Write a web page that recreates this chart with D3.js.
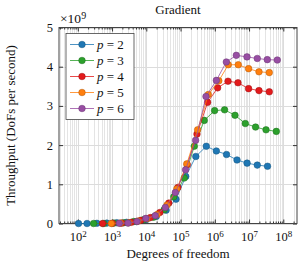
<html lang="en">
<head>
<meta charset="utf-8">
<title>Gradient</title>
<style>
  body { margin: 0; background: white; }
  svg { background: white; font-family: "Liberation Serif", "DejaVu Serif", serif; }
  .grid line { stroke: #e4e4e4; shape-rendering: crispEdges; }
  .grid.major line { stroke: #dcdcdc; }
  .grid path { display: none; }
  .axis path { display: none; }
  .axis line { stroke: #333; }
  .axis text { font-size: 12.5px; fill: #111; font-family: "Liberation Serif", serif; }
  .label { font-size: 13px; fill: #111; }
</style>
</head>
<body>
<script src="https://cdnjs.cloudflare.com/ajax/libs/d3/7.8.5/d3.min.js"></script>
<script>
// polynomial degrees
var degrees = [2, 3, 4, 5, 6];
var colors = ["#1f77b4", "#2ca02c", "#e31a1c", "#ff7f0e", "#984ea3"];
var strokes = ["#17577f", "#1f6e1f", "#9a1214", "#b35a0a", "#6a3672"];

// degrees of freedom and throughput (1e9 DoFs per second)
var dofsP2 = [105, 186, 361, 703, 1370, 2660, 5180, 10000, 19500, 37900, 73600, 142000, 279000, 565000, 1.11e6, 2.2e6, 4.45e6, 8.77e6, 1.74e7, 3.46e7];
var tputP2 = [0.0, 0.0, 0.005, 0.01, 0.02, 0.03, 0.05, 0.1, 0.18, 0.34, 0.62, 1.2, 1.71, 1.97, 1.85, 1.76, 1.62, 1.54, 1.49, 1.46];

var dofsP3 = [289, 574, 1120, 2200, 4320, 8450, 16300, 33100, 63500, 128000, 252000, 493000, 986000, 1.93e6, 3.89e6, 7.78e6, 1.55e7, 3.13e7, 6.25e7];
var tputP3 = [0.0, 0.0, 0.01, 0.02, 0.05, 0.1, 0.16, 0.35, 0.68, 1.16, 1.97, 2.63, 2.88, 2.9, 2.76, 2.55, 2.46, 2.39, 2.35];

var dofsP4 = [530, 1020, 1930, 3650, 6900, 13100, 24800, 45400, 83200, 157000, 302000, 616000, 1.21e6, 2.43e6, 4.75e6, 9.7e6, 1.95e7, 3.9e7];
var tputP4 = [0.0, 0.005, 0.01, 0.03, 0.08, 0.15, 0.28, 0.52, 0.92, 1.5, 2.28, 3.09, 3.46, 3.63, 3.59, 3.44, 3.39, 3.36];

var dofsP5 = [951, 1740, 3080, 5650, 10400, 20700, 40200, 77800, 152000, 315000, 646000, 1.31e6, 2.48e6, 4.85e6, 9.7e6, 1.95e7, 3.9e7];
var tputP5 = [0.0, 0.01, 0.02, 0.06, 0.12, 0.23, 0.47, 0.88, 1.52, 2.39, 3.29, 3.64, 4.05, 4.05, 3.95, 3.87, 3.85];

var dofsP6 = [1630, 2920, 5350, 9670, 18300, 35900, 70300, 140000, 275000, 553000, 1.11e6, 2.17e6, 4.25e6, 8.71e6, 1.74e7, 3.41e7, 6.68e7];
var tputP6 = [0.005, 0.01, 0.05, 0.13, 0.2, 0.41, 0.79, 1.37, 2.12, 3.24, 3.65, 4.12, 4.29, 4.25, 4.21, 4.18, 4.17];

var xTickExps = [2, 3, 4, 5, 6, 7, 8];
var yTicks = [0, 1, 2, 3, 4, 5];

var allDofs = [dofsP2, dofsP3, dofsP4, dofsP5, dofsP6];
var allTput = [tputP2, tputP3, tputP4, tputP5, tputP6];

var fullwidth = 302, fullheight = 267;
var margin = { top: 27.5, right: 5, bottom: 43.5, left: 59 };
var width = fullwidth - margin.left - margin.right;
var height = fullheight - margin.top - margin.bottom;

var svg = d3.select("body").append("svg")
    .attr("width", fullwidth)
    .attr("height", fullheight);

var g = svg.append("g")
    .attr("transform", "translate(" + margin.left + "," + margin.top + ")");

var xScale = d3.scaleLog()
    .domain([Math.pow(10, 1.451), Math.pow(10, 8.4)])
    .range([0, width]);

var yScale = d3.scaleLinear()
    .domain([0, 5])
    .range([height, 0]);

// minor ticks 2..9 per decade
var minorTicks = [];
for (var e = 1; e <= 8; e++) {
  for (var m = 2; m <= 9; m++) {
    var v = m * Math.pow(10, e);
    if (v > xScale.domain()[0] && v < xScale.domain()[1]) minorTicks.push(v);
  }
}
var majorTicks = xTickExps.map(function(e) { return Math.pow(10, e); });

// grid
g.append("g").attr("class", "grid")
  .attr("transform", "translate(0," + height + ")")
  .call(d3.axisBottom(xScale).tickValues(minorTicks).tickSize(-height).tickFormat(""));
g.append("g").attr("class", "grid major")
  .attr("transform", "translate(0," + height + ")")
  .call(d3.axisBottom(xScale).tickValues(majorTicks).tickSize(-height).tickFormat(""));
g.append("g").attr("class", "grid major")
  .call(d3.axisLeft(yScale).tickValues(yTicks).tickSize(-width).tickFormat(""));

// axes with inward ticks on all sides
var xAxis = g.append("g").attr("class", "axis")
  .attr("transform", "translate(0," + height + ")")
  .call(d3.axisBottom(xScale).tickValues(majorTicks).tickSize(-4).tickPadding(9).tickFormat(""));
xAxis.selectAll(".tick text").each(function(d) {
  var t = d3.select(this);
  t.text(null);
  t.append("tspan").text("10");
  t.append("tspan").attr("dy", "-0.45em").style("font-size", "9px").text(Math.round(Math.log10(d)));
});
g.append("g").attr("class", "axis")
  .attr("transform", "translate(0," + height + ")")
  .call(d3.axisBottom(xScale).tickValues(minorTicks).tickSize(-2).tickFormat(""));
g.append("g").attr("class", "axis")
  .call(d3.axisTop(xScale).tickValues(majorTicks).tickSize(-4).tickFormat(""));
g.append("g").attr("class", "axis")
  .call(d3.axisTop(xScale).tickValues(minorTicks).tickSize(-2).tickFormat(""));
g.append("g").attr("class", "axis")
  .call(d3.axisLeft(yScale).tickValues(yTicks).tickSize(-4).tickPadding(6).tickFormat(d3.format("d")));
g.append("g").attr("class", "axis")
  .attr("transform", "translate(" + width + ",0)")
  .call(d3.axisRight(yScale).tickValues(yTicks).tickSize(-4).tickFormat(""));

g.selectAll(".axis").attr("font-family", "Liberation Serif, serif");

// frame
g.append("rect")
  .attr("width", width).attr("height", height)
  .attr("fill", "none").attr("stroke", "#444").attr("stroke-width", 1);

// series
var line = d3.line()
  .x(function(d) { return xScale(d[0]); })
  .y(function(d) { return yScale(d[1]); });

degrees.forEach(function(p, i) {
  var pts = allDofs[i].map(function(x, j) { return [x, allTput[i][j]]; });
  g.append("path")
    .datum(pts)
    .attr("fill", "none")
    .attr("stroke", colors[i])
    .attr("stroke-width", 0.8)
    .attr("d", line);
  g.selectAll(".dot" + p)
    .data(pts)
    .enter().append("circle")
    .attr("cx", function(d) { return xScale(d[0]); })
    .attr("cy", function(d) { return yScale(d[1]); })
    .attr("r", 3.3)
    .attr("fill", colors[i])
    .attr("stroke", strokes[i])
    .attr("stroke-width", 0.5);
});

// legend
var legend = g.append("g").attr("transform", "translate(7,6)");
legend.append("rect")
  .attr("width", 68).attr("height", 86)
  .attr("fill", "white").attr("stroke", "#444").attr("stroke-width", 0.8);
degrees.forEach(function(p, i) {
  var row = legend.append("g").attr("transform", "translate(0," + (11 + i * 16) + ")");
  row.append("line").attr("x1", 4).attr("x2", 28).attr("stroke", colors[i]).attr("stroke-width", 0.8);
  row.append("circle").attr("cx", 16).attr("r", 3.3)
    .attr("fill", colors[i]).attr("stroke", strokes[i]).attr("stroke-width", 0.5);
  var t = row.append("text").attr("x", 31).attr("y", 4).attr("class", "label");
  t.append("tspan").style("font-style", "italic").text("p");
  t.append("tspan").text(" = " + p);
});

// labels
svg.append("text").attr("class", "label")
  .attr("x", margin.left + width / 2).attr("y", 13.5)
  .attr("text-anchor", "middle").text("Gradient");
svg.append("text").attr("class", "label")
  .attr("x", margin.left + width / 2).attr("y", 258)
  .attr("text-anchor", "middle").text("Degrees of freedom");
svg.append("text").attr("class", "label")
  .attr("transform", "translate(15," + (margin.top + height / 2) + ") rotate(-90)")
  .attr("text-anchor", "middle").text("Throughput (DoFs per second)");
var mult = svg.append("text").attr("class", "label")
  .attr("x", 60).attr("y", 23).style("font-size", "13.5px");
mult.append("tspan").text("\u00d710");
mult.append("tspan").attr("dy", "-0.45em").style("font-size", "10px").text("9");
</script>
</body>
</html>
